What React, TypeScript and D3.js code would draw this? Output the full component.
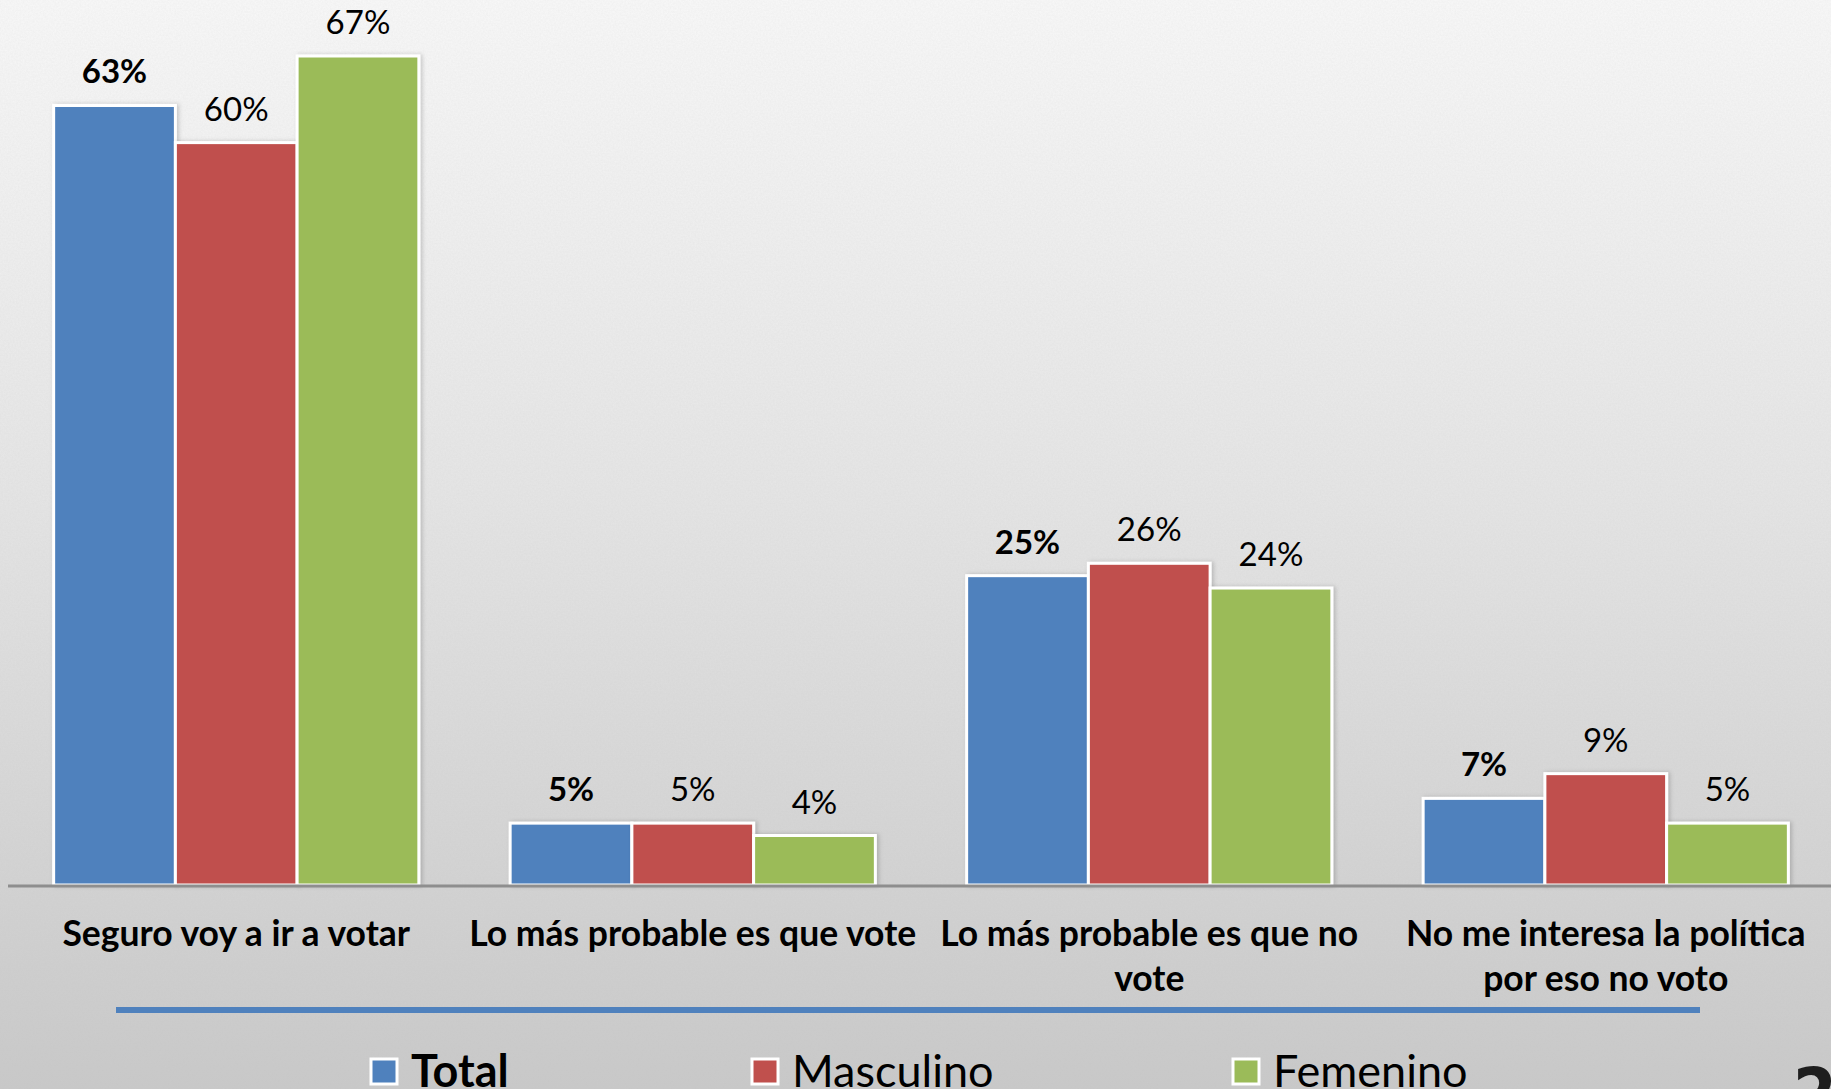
import React, { useMemo } from 'react'
import * as d3 from 'd3'

const categories = [
  ['Seguro voy a ir a votar'],
  ['Lo más probable es que vote'],
  ['Lo más probable es que no', 'vote'],
  ['No me interesa la política', 'por eso no voto'],
]
const seriesNames = ['Total', 'Masculino', 'Femenino']
const total = [63, 5, 25, 7]
const masculino = [60, 5, 26, 9]
const femenino = [67, 4, 24, 5]
const colors = ['#4F81BD', '#C0504D', '#9BBB59']

const W = 1831
const H = 1089
const FONT = 'Lato, "Open Sans", sans-serif'

export default function App() {
  const values = [total, masculino, femenino]

  const { x, xi, y } = useMemo(() => {
    const x = d3.scaleBand<number>()
      .domain(d3.range(categories.length))
      .range([8, 1834])
      .paddingInner(0.2)
      .paddingOuter(0.1)
    const xi = d3.scaleBand<number>()
      .domain(d3.range(seriesNames.length))
      .range([0, x.bandwidth()])
    const y = d3.scaleLinear().domain([0, 67]).range([885, 56])
    return { x, xi, y }
  }, [])

  const legendX = [371, 752, 1233]

  return (
    <svg width={W} height={H} style={{ position: 'absolute', left: 0, top: 0, display: 'block' }}
      fontFamily={FONT}>
      <defs>
        <linearGradient id="bg" x1="0" y1="0" x2="0" y2="1">
          <stop offset="0" stopColor="#f9f9f9" />
          <stop offset="0.45" stopColor="#e6e6e6" />
          <stop offset="1" stopColor="#c9c9c9" />
        </linearGradient>
        <filter id="noise" x="0" y="0" width="100%" height="100%">
          <feTurbulence type="fractalNoise" baseFrequency="0.6" numOctaves="2" seed="3" />
          <feColorMatrix type="matrix" values="0 0 0 0 0.5  0 0 0 0 0.5  0 0 0 0 0.5  0 0 0 0.16 0" />
        </filter>
        <filter id="shadow" x="-10%" y="-10%" width="130%" height="130%">
          <feDropShadow dx="2" dy="0" stdDeviation="2" floodColor="#000" floodOpacity="0.18" />
        </filter>
      </defs>
      <rect width={W} height={H} fill="url(#bg)" />
      <rect width={W} height={H} filter="url(#noise)" />

      {categories.map((_, ci) => (
        <g key={ci} transform={`translate(${x(ci)},0)`}>
          {values.map((vals, si) => (
            <rect
              key={si}
              x={xi(si)}
              y={y(vals[ci])}
              width={xi.bandwidth()}
              height={y(0) - y(vals[ci])}
              fill={colors[si]}
              stroke="#fff"
              strokeWidth={3}
              filter="url(#shadow)"
            />
          ))}
          {values.map((vals, si) => (
            <text
              key={'t' + si}
              x={xi(si)! + xi.bandwidth() / 2}
              y={y(vals[ci]) - 22}
              textAnchor="middle"
              fontSize={33}
              fontWeight={si === 0 ? 700 : 400}
              fill="#000"
            >
              {vals[ci]}%
            </text>
          ))}
        </g>
      ))}

      <line x1={8} x2={W} y1={y(0) + 1} y2={y(0) + 1} stroke="#8e8e8e" strokeWidth={3} />

      {categories.map((lines, ci) => (
        <text
          key={'c' + ci}
          x={x(ci)! + x.bandwidth() / 2}
          y={946}
          textAnchor="middle"
          fontSize={35.5}
          fontWeight={700}
          fill="#000"
        >
          {lines.map((l, li) => (
            <tspan key={li} x={x(ci)! + x.bandwidth() / 2} dy={li === 0 ? 0 : 45}>{l}</tspan>
          ))}
        </text>
      ))}

      <line x1={116} x2={1700} y1={1010} y2={1010} stroke="#4F81BD" strokeWidth={6} />

      {seriesNames.map((name, si) => (
        <g key={'l' + si}>
          <rect x={legendX[si]} y={1059} width={26} height={25} fill={colors[si]} stroke="#fff" strokeWidth={3} />
          <text
            x={legendX[si] + 40}
            y={1087}
            fontSize={45}
            fontWeight={si === 0 ? 700 : 400}
            fill="#000"
          >
            {name}
          </text>
        </g>
      ))}

      <text x={1793} y={1118} fontSize={70} fontWeight={900} fill="#1e1e1e"
        fontFamily={'"Liberation Sans Narrow", "DejaVu Sans Condensed", sans-serif'}>26</text>
    </svg>
  )
}
